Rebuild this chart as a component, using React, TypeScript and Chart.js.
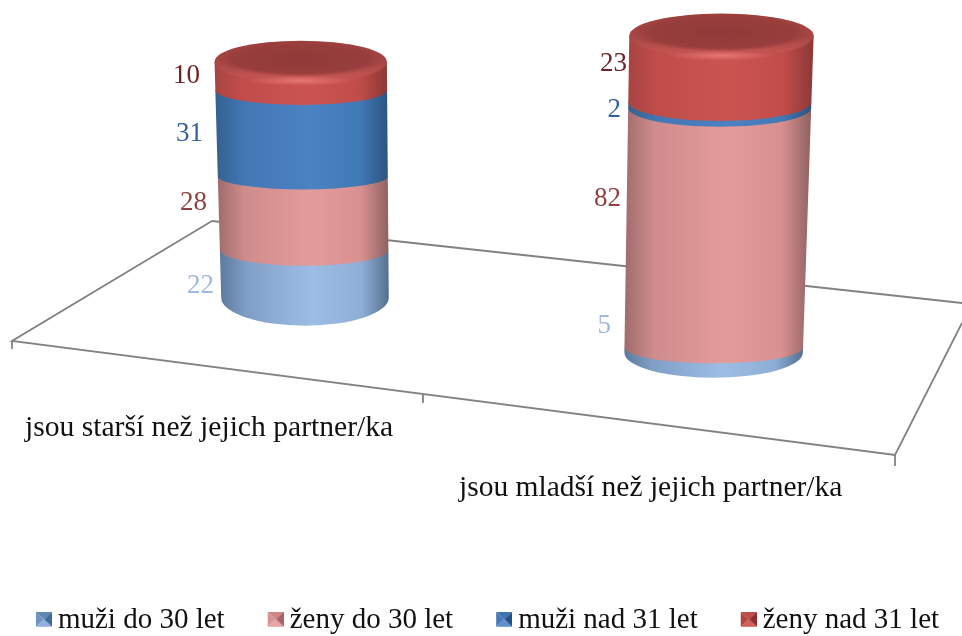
import React, { useEffect, useRef } from "react";
import { Chart, registerables } from "chart.js";

Chart.register(...registerables);

// ---- data ----
const categories = ["jsou starší než jejich partner/ka", "jsou mladší než jejich partner/ka"];
const seriesNames = ["muži do 30 let", "ženy do 30 let", "muži nad 31 let", "ženy nad 31 let"];
const menUnder30 = [22, 5];
const womenUnder30 = [28, 82];
const menOver31 = [31, 2];
const womenOver31 = [10, 23];
const seriesValues = [menUnder30, womenUnder30, menOver31, womenOver31];

// ---- styles ----
const SERIF = '"Liberation Serif", serif';
const axisIds = ["y", "y2"];
const barThickness = [170, 181];
const PLOT_H = 600.6;
const BASE = [325, 377]; // pixel of zero on each perspective axis
const UNIT = [2.72, 2.88]; // pixels per unit on each perspective axis

// bevel and perspective of the two cylinders
const shapes = [
  { ry: [28, 16, 13, 15], topRy: 16, capRy: 21, leanTop: -2, leanBottom: 2.5, widthTop: 172, widthBottom: 167 },
  { ry: [25, 16, 19, 19], topRy: 19, capRy: 22, leanTop: 4, leanBottom: -4, widthTop: 184, widthBottom: 178 },
];
const labelDx = [
  [-89, -96, -100, -103],
  [-106, -96, -96, -90],
];
const labelDy = [
  [-10, -25, -13, -15],
  [-45, -46, -14, -24],
];
const labelColors = ["#9fb8dc", "#8f4040", "#33639a", "#6e2424"];
const bodyColors = [
  ["#5d7a9e", "#7f9fc6", "#9dbde4", "#8eaed6", "#55708f"],
  ["#a06c6c", "#cf8c8c", "#e59b9b", "#d99090", "#8f6262"],
  ["#33608f", "#4277b4", "#4b82c2", "#4178b6", "#2c5480"],
  ["#a84442", "#c04d4a", "#cb5451", "#c04c4a", "#8c3836"],
];
const iconColors = [
  ["#8fb0d8", "#5f87b5", "#3f6a9c", "#6f93bf"],
  ["#e8a5a5", "#cf8585", "#a86464", "#d89393"],
  ["#5f90cc", "#3f74b3", "#234f85", "#4679b5"],
  ["#d0605c", "#c04c4a", "#8c2f2d", "#b04442"],
];
const floorLines = [
  [[212, 221], [12, 341], [895, 455], [962, 323]],
  [[212, 221], [962, 303]],
  [[12, 341], [12, 349]],
  [[423, 395], [423, 403]],
  [[895, 455], [895, 466]],
];
const categoryLabelPos = [
  { x: 25, y: 436, size: 29.6 },
  { x: 459, y: 496, size: 29.5 },
];

// The legend box is wide, so the swatch sits at the right of a wider transparent canvas.
const ICON_W = 16;
const ICON_H = 15;
const ICON_CANVAS_W = 63;
const ICON_CANVAS_H = 18;

function makeIcon(colors: string[]) {
  const c = document.createElement("canvas");
  c.width = ICON_CANVAS_W;
  c.height = ICON_CANVAS_H;
  const g = c.getContext("2d")!;
  g.translate(ICON_CANVAS_W - ICON_W, 0);
  const tri = (col: string, pts: number[][]) => {
    g.fillStyle = col;
    g.beginPath();
    pts.forEach((p, i) => (i ? g.lineTo(p[0], p[1]) : g.moveTo(p[0], p[1])));
    g.closePath();
    g.fill();
  };
  const m = [ICON_W / 2, ICON_H / 2];
  tri(colors[1], [[0, 0], [ICON_W, 0], m]);
  tri(colors[3], [[0, 0], [0, ICON_H], m]);
  tri(colors[2], [[ICON_W, 0], [ICON_W, ICON_H], m]);
  tri(colors[0], [[0, ICON_H], [ICON_W, ICON_H], m]);
  return c;
}

const floorPlugin = {
  id: "floor",
  beforeDatasetsDraw(chart: any) {
    const ctx = chart.ctx;
    ctx.save();
    ctx.strokeStyle = "#828282";
    ctx.lineWidth = 1.8;
    floorLines.forEach((line) => {
      ctx.beginPath();
      line.forEach((p, i) => (i ? ctx.lineTo(p[0], p[1]) : ctx.moveTo(p[0], p[1])));
      ctx.stroke();
    });
    ctx.restore();
  },
};

const cylinderPlugin = {
  id: "cylinders",
  afterDatasetsDraw(chart: any) {
    const ctx = chart.ctx;
    categories.forEach((label, c) => {
      const s = shapes[c];
      const metas = seriesNames.map((_, i) => chart.getDatasetMeta(i * 2 + c).data[c]);
      const zero = metas[0].base;
      const top = metas[metas.length - 1].y;
      const at = (y: number) => {
        const t = (y - top) / (zero - top);
        const cx = metas[0].x + s.leanTop + (s.leanBottom - s.leanTop) * t;
        const rx = (s.widthTop + (s.widthBottom - s.widthTop) * t) / 2;
        return { cx, rx };
      };
      metas.forEach((bar: any, i: number) => {
        const loFront = bar.base;
        const hiFront = bar.y;
        const ryLo = s.ry[i];
        const ryHi = i < metas.length - 1 ? s.ry[i + 1] : s.topRy;
        const lo = at(loFront - ryLo);
        const hi = at(hiFront - ryHi);
        const left = Math.min(lo.cx - lo.rx, hi.cx - hi.rx);
        const right = Math.max(lo.cx + lo.rx, hi.cx + hi.rx);
        const g = ctx.createLinearGradient(left, 0, right, 0);
        const cols = bodyColors[i];
        [0, 0.16, 0.55, 0.84, 1].forEach((p, k) => g.addColorStop(p, cols[k]));
        ctx.fillStyle = g;
        ctx.beginPath();
        ctx.moveTo(hi.cx - hi.rx, hiFront - ryHi);
        ctx.lineTo(lo.cx - lo.rx, loFront - ryLo);
        ctx.ellipse(lo.cx, loFront - ryLo, lo.rx, ryLo, 0, Math.PI, 0, true);
        ctx.lineTo(hi.cx + hi.rx, hiFront - ryHi);
        ctx.closePath();
        ctx.fill();
      });

      // bevelled top cap
      const capY = top - s.topRy;
      const cap = at(capY);
      const vg = ctx.createLinearGradient(0, capY - s.capRy, 0, capY + s.capRy);
      vg.addColorStop(0, "#9a3f3d");
      vg.addColorStop(0.55, "#a84745");
      vg.addColorStop(0.85, "#c05350");
      vg.addColorStop(1, "#c4514e");
      ctx.fillStyle = vg;
      ctx.beginPath();
      ctx.ellipse(cap.cx, capY, cap.rx, s.capRy, 0, 0, Math.PI * 2);
      ctx.fill();

      ctx.save();
      ctx.translate(cap.cx, capY - 3);
      ctx.scale(1, (s.capRy - 3) / (cap.rx * 0.98));
      const rg = ctx.createRadialGradient(0, 0, 0, 0, 0, cap.rx * 0.98);
      rg.addColorStop(0, "#8f3b39");
      rg.addColorStop(0.82, "#983e3c");
      rg.addColorStop(1, "rgba(160,66,64,0)");
      ctx.fillStyle = rg;
      ctx.beginPath();
      ctx.arc(0, 0, cap.rx * 0.98, 0, Math.PI * 2);
      ctx.fill();
      ctx.restore();

      // highlight on the front of the bevel
      ctx.save();
      ctx.translate(cap.cx, capY + s.capRy - 2);
      ctx.scale(1, 0.09);
      const hg = ctx.createRadialGradient(0, 0, 0, 0, 0, 55);
      hg.addColorStop(0, "rgba(238,125,120,0.85)");
      hg.addColorStop(1, "rgba(238,125,120,0)");
      ctx.fillStyle = hg;
      ctx.beginPath();
      ctx.arc(0, 0, 55, 0, Math.PI * 2);
      ctx.fill();
      ctx.restore();

      // value labels
      ctx.save();
      ctx.font = `27px ${SERIF}`;
      ctx.textAlign = "right";
      ctx.textBaseline = "middle";
      metas.forEach((bar: any, i: number) => {
        ctx.fillStyle = labelColors[i];
        const mid = (bar.base + bar.y) / 2;
        ctx.fillText(String(seriesValues[i][c]), bar.x + labelDx[c][i], mid + labelDy[c][i]);
      });
      ctx.restore();

      // category labels
      const pos = categoryLabelPos[c];
      ctx.save();
      ctx.font = `${pos.size}px ${SERIF}`;
      ctx.textAlign = "left";
      ctx.textBaseline = "alphabetic";
      ctx.fillStyle = "#111";
      ctx.fillText(label, pos.x, pos.y);
      ctx.restore();
    });
  },
};

export default function App() {
  const ref = useRef<HTMLCanvasElement>(null);
  useEffect(() => {
    const icons = iconColors.map(makeIcon);
    const datasets: any[] = [];
    seriesNames.forEach((name, i) => {
      categories.forEach((_, c) => {
        datasets.push({
          label: name,
          data: categories.map((__, k) => (k === c ? seriesValues[i][c] : null)),
          yAxisID: axisIds[c],
          stack: "all",
          barThickness: barThickness[c],
          backgroundColor: "transparent",
          borderWidth: 0,
        });
      });
    });
    const axis = (c: number, width: number, position: string) => ({
      position,
      stacked: true,
      display: true,
      min: (BASE[c] - PLOT_H) / UNIT[c],
      max: BASE[c] / UNIT[c],
      grid: { display: false },
      border: { display: false },
      ticks: { display: false },
      afterFit: (s: any) => {
        s.width = width;
      },
    });
    const chart = new Chart(ref.current!, {
      type: "bar",
      data: { labels: categories, datasets },
      plugins: [floorPlugin, cylinderPlugin],
      options: {
        animation: false,
        responsive: false,
        layout: { padding: { left: -25.5, right: 0, top: 0, bottom: -9.3 } },
        scales: {
          x: { stacked: true, display: false },
          y: axis(0, 121.5, "left"),
          y2: axis(1, 38, "right"),
        },
        plugins: {
          tooltip: { enabled: false },
          title: { display: false },
          legend: {
            display: true,
            position: "bottom",
            labels: {
              font: { family: SERIF, size: 29 },
              color: "#111",
              padding: 4.5,
              usePointStyle: true,
              pointStyleWidth: 46,
              boxWidth: 16,
              boxHeight: 14,
              generateLabels: () =>
                seriesNames.map((text, i) => ({
                  text,
                  pointStyle: icons[i],
                  fillStyle: bodyColors[i][2],
                  strokeStyle: "transparent",
                  lineWidth: 0,
                  hidden: false,
                  datasetIndex: i * 2,
                  fontColor: "#111",
                })),
            },
          },
        },
      },
    } as any);
    return () => chart.destroy();
  }, []);
  return (
    <div style={{ position: "absolute", left: 0, top: 0, width: 962, height: 636, background: "#fff" }}>
      <canvas ref={ref} width={962} height={636} style={{ display: "block" }} />
    </div>
  );
}
